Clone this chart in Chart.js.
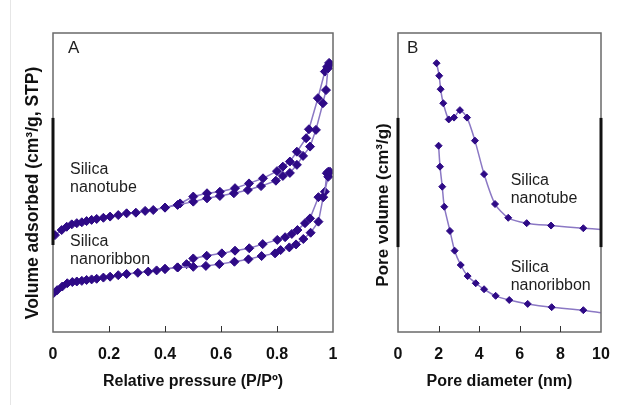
<!DOCTYPE html>
<html>
<head>
<meta charset="utf-8">
<script src="https://cdn.jsdelivr.net/npm/chart.js@4"></script>
<style>
  html, body { margin: 0; padding: 0; background: #fff; }
  body { width: 620px; height: 405px; position: relative; overflow: hidden; }
  #edge { position: absolute; left: 10px; top: 0; height: 405px; border-left: 1px solid #e6e6e6; }
  #chartA { position: absolute; left: 0; top: 0; }
  #chartB { position: absolute; left: 345px; top: 0; }
</style>
</head>
<body>
<div id="edge"></div>
<canvas id="chartA" width="345" height="405"></canvas>
<canvas id="chartB" width="275" height="405"></canvas>
<script>
// panel A: N2 isotherms (relative pressure vs volume adsorbed, arbitrary units)
const tubeAdsP = [0.007, 0.031, 0.049, 0.067, 0.085, 0.103, 0.120, 0.138, 0.156, 0.180, 0.204, 0.233, 0.263, 0.296, 0.329, 0.358, 0.400, 0.445, 0.501, 0.550, 0.596, 0.646, 0.696, 0.743, 0.796, 0.821, 0.846, 0.871, 0.893, 0.918, 0.939, 0.964, 0.975, 0.982, 0.989];
const tubeAdsV = [32.4, 34.1, 35.2, 36.0, 36.4, 36.7, 37.1, 37.5, 37.8, 38.2, 38.6, 39.1, 39.7, 39.9, 40.5, 40.8, 41.6, 42.5, 43.6, 44.7, 45.5, 46.4, 47.5, 48.8, 50.6, 52.2, 53.2, 55.9, 58.9, 62.0, 67.6, 76.5, 80.9, 88.2, 89.6];
const tubeDesP = [0.400, 0.454, 0.501, 0.550, 0.596, 0.650, 0.700, 0.750, 0.800, 0.821, 0.846, 0.871, 0.904, 0.914, 0.946, 0.971, 0.979, 0.986];
const tubeDesV = [41.6, 43.0, 45.3, 46.4, 46.9, 48.1, 49.7, 51.4, 53.8, 55.3, 57.0, 60.3, 64.8, 67.8, 78.2, 87.1, 88.7, 90.0];

const ribAdsP = [0.001, 0.015, 0.033, 0.051, 0.069, 0.085, 0.103, 0.120, 0.138, 0.156, 0.180, 0.204, 0.233, 0.263, 0.303, 0.340, 0.370, 0.400, 0.445, 0.501, 0.546, 0.594, 0.648, 0.698, 0.745, 0.793, 0.813, 0.844, 0.868, 0.894, 0.920, 0.948, 0.965, 0.983, 0.989];
const ribAdsV = [12.9, 14.0, 15.2, 16.3, 16.7, 16.9, 17.1, 17.4, 17.6, 17.8, 18.2, 18.5, 19.0, 19.4, 19.8, 20.2, 20.6, 21.1, 21.6, 21.8, 22.1, 22.7, 23.5, 24.3, 25.4, 26.3, 27.4, 28.3, 29.3, 31.1, 33.2, 36.9, 45.1, 51.9, 53.6];
const ribDesP = [0.400, 0.445, 0.477, 0.501, 0.549, 0.603, 0.650, 0.701, 0.749, 0.801, 0.829, 0.853, 0.873, 0.900, 0.918, 0.948, 0.971, 0.978, 0.983];
const ribDesV = [21.1, 21.6, 22.7, 24.6, 25.5, 26.3, 27.2, 28.0, 29.4, 30.8, 31.7, 32.8, 34.1, 36.4, 38.0, 45.1, 46.9, 53.1, 53.6];

// panel B: pore size distributions (pore diameter nm vs pore volume, arbitrary units)
const tubeD = [1.9, 2.03, 2.1, 2.23, 2.5, 2.76, 3.05, 3.4, 3.79, 4.24, 4.78, 5.43, 6.34, 7.54, 9.13, 10];
const tubeV = [89.9, 85.7, 81.2, 76.5, 71.1, 71.7, 74.2, 71.7, 64.0, 52.8, 42.8, 38.2, 36.4, 35.6, 34.7, 34.3];
const ribD = [2.0, 2.07, 2.18, 2.28, 2.56, 2.79, 3.09, 3.43, 3.83, 4.24, 4.81, 5.48, 6.39, 7.57, 9.13, 10];
const ribV = [62.3, 55.3, 48.6, 41.9, 33.8, 27.2, 22.4, 18.7, 16.3, 14.3, 12.1, 10.7, 9.4, 8.3, 7.3, 6.4];

const FONT = '"Liberation Sans", Arial, sans-serif';
const markColor = '#2e0a86';
const lineColor = '#8b78c4';

const pts = (xs, ys) => xs.map((x, i) => ({ x: x, y: ys[i] }));

let series = (xs, ys, radius, tension) => ({
    data: pts(xs, ys),
    showLine: true,
    borderColor: lineColor,
    borderWidth: 1.5,
    tension: tension,
    pointStyle: 'rectRot',
    // last point of the PSD curves only carries the line to the frame
    pointRadius: (ctx) => (tension > 0 && ctx.dataIndex === xs.length - 1) ? 0 : radius,
    pointBackgroundColor: markColor,
    pointBorderColor: markColor,
    pointBorderWidth: 1
});

// frame, inward ticks, panel letter, curve labels, y title
const panelDeco = {
    id: 'panelDeco',
    afterDraw(chart, args, opts) {
        const { ctx, chartArea: a, scales: { x, y } } = chart;
        ctx.save();
        ctx.strokeStyle = '#6a6a6a';
        ctx.lineWidth = 1.5;
        ctx.strokeRect(a.left, a.top, a.right - a.left, a.bottom - a.top);

        ctx.strokeStyle = '#333';
        ctx.lineWidth = 1;
        x.ticks.forEach((t) => {
            if (t.value <= x.min || t.value >= x.max) return;
            const px = Math.round(x.getPixelForValue(t.value)) + 0.5;
            ctx.beginPath();
            ctx.moveTo(px, a.bottom);
            ctx.lineTo(px, a.bottom - 6);
            ctx.stroke();
        });

        ctx.strokeStyle = '#111';
        ctx.lineWidth = 3;
        opts.thick.sides.forEach((side) => {
            const px = side === 'left' ? a.left : a.right;
            ctx.beginPath();
            ctx.moveTo(px, y.getPixelForValue(opts.thick.from));
            ctx.lineTo(px, y.getPixelForValue(opts.thick.to));
            ctx.stroke();
        });

        ctx.fillStyle = '#1e1e1e';
        ctx.textBaseline = 'middle';
        ctx.textAlign = 'left';
        ctx.font = '17px ' + FONT;
        ctx.fillText(opts.letter, a.left + opts.letterDx, a.top + 15);

        ctx.font = '16px ' + FONT;
        opts.notes.forEach((n) => {
            const nx = x.getPixelForValue(n.x);
            const ny = y.getPixelForValue(n.y);
            n.lines.forEach((s, i) => ctx.fillText(s, nx, ny + i * 18));
        });

        ctx.fillStyle = '#111';
        ctx.font = 'bold ' + opts.yTitle.size + 'px ' + FONT;
        ctx.textAlign = 'center';
        ctx.translate(a.left - opts.yTitle.gap, y.getPixelForValue(opts.yTitle.y));
        ctx.rotate(-Math.PI / 2);
        ctx.fillText(opts.yTitle.text, 0, 0);
        ctx.restore();
    }
};

let xAxis = (max, step, title) => ({
    type: 'linear',
    min: 0,
    max: max,
    ticks: {
        stepSize: step,
        padding: 13,
        color: '#111',
        font: { family: FONT, size: 16, weight: 'bold' },
        callback: (v) => String(+v.toFixed(2))
    },
    grid: { display: false, drawTicks: false },
    border: { display: false },
    title: { display: true, text: title, color: '#111', padding: { top: 0, bottom: 14 }, font: { family: FONT, size: 16, weight: 'bold' } },
    afterFit: (s) => {
        s.height = 73;
        // keep the frame where the layout padding puts it
        s.paddingLeft = 0;
        s.paddingRight = 0;
    }
});

const baseOptions = (xScale, padding, deco) => ({
    responsive: false,
    animation: false,
    layout: { padding: padding },
    plugins: { legend: { display: false }, tooltip: { enabled: false }, panelDeco: deco },
    scales: {
        x: xScale,
        y: { type: 'linear', min: 0, max: 100, display: false }
    }
});

const chartA = new Chart(document.getElementById('chartA'), {
    type: 'scatter',
    data: {
        datasets: [
            series(tubeAdsP, tubeAdsV, 4.5, 0),
            series(tubeDesP, tubeDesV, 4.5, 0),
            series(ribAdsP, ribAdsV, 4.5, 0),
            series(ribDesP, ribDesV, 4.5, 0)
        ]
    },
    options: baseOptions(xAxis(1, 0.2, 'Relative pressure (P/Pº)'), { left: 53, right: 12, top: 33, bottom: 0 }, {
        letter: 'A',
        letterDx: 15,
        thick: { sides: ['left'], from: 71.6, to: 29.1 },
        notes: [
            { x: 0.061, y: 54.2, lines: ['Silica', 'nanotube'] },
            { x: 0.061, y: 30.4, lines: ['Silica', 'nanoribbon'] }
        ],
        yTitle: { text: 'Volume adsorbed (cm³/g, STP)', gap: 20, y: 46.5, size: 17.5 }
    }),
    plugins: [panelDeco]
});

const chartB = new Chart(document.getElementById('chartB'), {
    type: 'scatter',
    data: {
        datasets: [
            series(tubeD, tubeV, 3.5, 0.25),
            series(ribD, ribV, 3.5, 0.25)
        ]
    },
    options: baseOptions(xAxis(10, 2, 'Pore diameter (nm)'), { left: 53, right: 19, top: 33, bottom: 0 }, {
        letter: 'B',
        letterDx: 9,
        thick: { sides: ['left', 'right'], from: 71.6, to: 28.4 },
        notes: [
            { x: 5.55, y: 50.6, lines: ['Silica', 'nanotube'] },
            { x: 5.55, y: 21.7, lines: ['Silica', 'nanoribbon'] }
        ],
        yTitle: { text: 'Pore volume (cm³/g)', gap: 15, y: 42.5, size: 17 }
    }),
    plugins: [panelDeco]
});
</script>
</body>
</html>
